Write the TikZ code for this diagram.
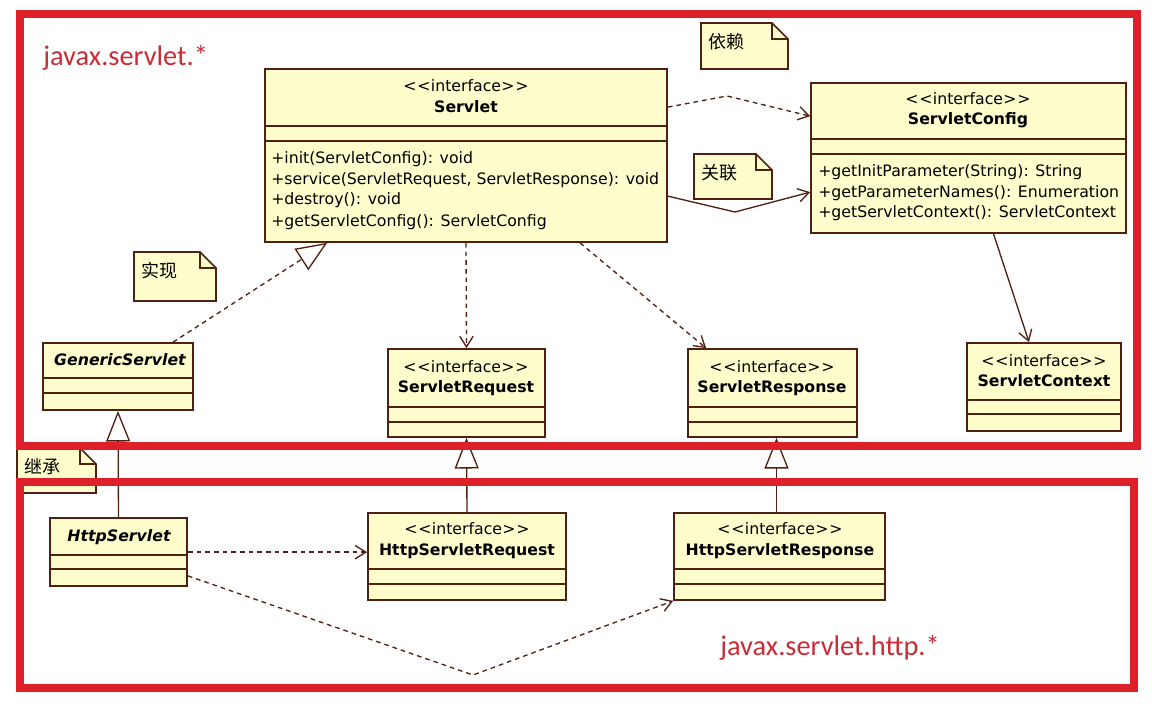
\documentclass[tikz,border=0pt]{standalone}
\usepackage{fontspec}
\setmainfont{DejaVu Sans}
\newfontfamily\cjkfont{Noto Sans CJK SC}
\newfontfamily\pkgfont{Carlito}
\usetikzlibrary{arrows.meta,fit,calc}
\definecolor{umlfill}{RGB}{255,253,204}
\definecolor{umlline}{RGB}{80,32,18}
\definecolor{pkgred}{RGB}{222,32,42}
\definecolor{pkgtext}{RGB}{200,45,55}
\newcommand\umlstereo{<\kern0.6pt<\kern0.3pt interface\kern0.3pt>\kern0.6pt>}
\tikzset{
  umlbox/.style={draw=umlline, fill=umlfill, line width=1.3pt, inner sep=0pt},
  cmp/.style={draw=umlline, line width=1.3pt},
  utext/.style={font=\fontsize{11.8}{14}\selectfont, inner sep=0pt, text height=8.6pt, text depth=2.6pt},
  uname/.style={utext, font=\fontsize{11.8}{14}\selectfont\bfseries},
  uabs/.style={utext, font=\fontsize{11.8}{14}\selectfont\bfseries\itshape},
  notebox/.style={draw=umlline, fill=umlfill, line width=1.2pt},
  notefold/.style={draw=umlline, line width=1.2pt},
  ctext/.style={font=\cjkfont\fontsize{13.5}{16}\selectfont, inner sep=0pt},
  conn/.style={draw=umlline, line width=1pt},
  dep/.style={conn, dash pattern=on 3.5pt off 3pt, -{Straight Barb[length=8pt,width=10pt]}},
  assoc/.style={conn, -{Straight Barb[length=8pt,width=10pt]}},
  real/.style={conn, dash pattern=on 3.5pt off 3pt, -{Triangle[open, length=23pt, width=19pt]}},
  gen/.style={conn, -{Triangle[open, length=23pt, width=18pt]}},
  pkg/.style={draw=pkgred, line width=5.4pt, inner sep=0pt},
  pkglabel/.style={font=\pkgfont\fontsize{21.3}{24}\selectfont, text=pkgtext, inner sep=0pt}
}
\newcommand\umlcls[7]{%
  \node[umlbox, fit={(#2,#3) (#4,#5)}] (#1) {};
  \draw[cmp] (#2,#6) -- (#4,#6);
  \draw[cmp] (#2,#7) -- (#4,#7);
}
\newcommand\umlnote[6]{%
  \filldraw[notebox] (#2,#3) -- (#4-16,#3) -- (#4,#3+16) -- (#4,#5) -- (#2,#5) -- cycle;
  \draw[notefold] (#4-16,#3) -- (#4-16,#3+16) -- (#4,#3+16);
  \node[ctext, anchor=west] (#1) at (#2+7,#3+19) {#6};
}
\begin{document}
\begin{tikzpicture}[x=0.75pt,y=-0.75pt]
\useasboundingbox (0,0) rectangle (1152,710);

% notes
\umlnote{ndep}{701}{23}{788}{69}{依赖}
\umlnote{nasc}{694}{154}{772}{199}{关联}
\umlnote{nreal}{134}{252}{216}{301}{实现}
\umlnote{ninh}{17}{448}{96}{493}{继承}

% Servlet
\umlcls{servlet}{265}{69}{667}{242}{126}{141}
\node[utext] (servlet-st) at (466,88) {\umlstereo};
\node[uname] (servlet-n) at (466,108) {Servlet};
\node[utext, anchor=west] (servlet-m1) at (271,159) {+init(ServletConfig): void};
\node[utext, anchor=west] (servlet-m2) at (271,180) {+service(ServletRequest, ServletResponse): void};
\node[utext, anchor=west] (servlet-m3) at (271,200) {+destroy(): void};
\node[utext, anchor=west] (servlet-m4) at (271,222) {+getServletConfig(): ServletConfig};

% ServletConfig
\umlcls{config}{811}{83}{1126}{233}{139}{154}
\node[utext] (config-st) at (968,100) {\umlstereo};
\node[uname] (config-n) at (968,120) {ServletConfig};
\node[utext, anchor=west] (config-m1) at (818,172) {+getInitParameter(String): String};
\node[utext, anchor=west] (config-m2) at (818,193) {+getParameterNames(): Enumeration};
\node[utext, anchor=west] (config-m3) at (818,213) {+getServletContext(): ServletContext};

% GenericServlet
\umlcls{generic}{43}{343}{193}{410}{378}{393}
\node[uabs] (generic-n) at (120,361) {GenericServlet};

% ServletRequest
\umlcls{req}{388}{349}{545}{437}{407}{422}
\node[utext] (req-st) at (466,368) {\umlstereo};
\node[uname] (req-n) at (466,388) {ServletRequest};

% ServletResponse
\umlcls{resp}{688}{349}{857}{437}{407}{422}
\node[utext] (resp-st) at (772,368) {\umlstereo};
\node[uname] (resp-n) at (772,388) {ServletResponse};

% ServletContext
\umlcls{context}{967}{343}{1121}{431}{400}{414}
\node[utext] (context-st) at (1044,362) {\umlstereo};
\node[uname] (context-n) at (1044,382) {ServletContext};

% HttpServlet
\umlcls{hs}{50}{518}{187}{586}{555}{569}
\node[uabs] (hs-n) at (119,537) {HttpServlet};

% HttpServletRequest
\umlcls{hreq}{368}{513}{566}{600}{569}{584}
\node[utext] (hreq-st) at (467,530) {\umlstereo};
\node[uname] (hreq-n) at (467,551) {HttpServletRequest};

% HttpServletResponse
\umlcls{hresp}{674}{513}{885}{600}{569}{584}
\node[utext] (hresp-st) at (780,530) {\umlstereo};
\node[uname] (hresp-n) at (780,551) {HttpServletResponse};

% connectors
\coordinate (dep1) at (727,96);
\draw[dep] ($(servlet.north east)+(0,39)$) -- (dep1) -- ($(config.north west)+(0,34)$);
\coordinate (asc1) at (735,212);
\draw[assoc] ($(servlet.north east)+(0,128)$) -- (asc1) -- ($(config.north west)+(0,110)$);
\draw[assoc] ($(config.south)+(25,0)$) -- ($(context.north)+(-15,0)$);
\draw[dep] (servlet.south) -- (req.north);
\draw[dep] ($(servlet.south)+(114,0)$) -- ($(resp.north west)+(19,0)$);
\draw[real] ($(generic.north)+(55,0)$) -- ($(servlet.south west)+(63,0)$);
\draw[gen] (hs.north) -- (generic.south);
\draw[gen] (hreq.north) -- (req.south);
\draw[gen] ($(hresp.north)+(-3,0)$) -- ($(resp.south)+(4,0)$);
\coordinate (hsa) at ($(hs.north east)+(0,35)$);
\draw[dep] (hsa) -- (hsa -| hreq.west);
\coordinate (hsb) at ($(hs.south east)+(0,-11)$);
\coordinate (hsv) at (473,675);
\draw[dep] (hsb) -- (hsv) -- (hresp.south west);

% packages
\node[pkg, fit={(20,14) (1137,446)}] (pkg1) {};
\node[pkg, fit={(20,482) (1134,688)}] (pkg2) {};
\node[pkglabel, anchor=base west] (pkg1-l) at (43,65) {javax.servlet.*};
\node[pkglabel, anchor=base west] (pkg2-l) at (720,655) {javax.servlet.http.*};
\end{tikzpicture}
\end{document}
